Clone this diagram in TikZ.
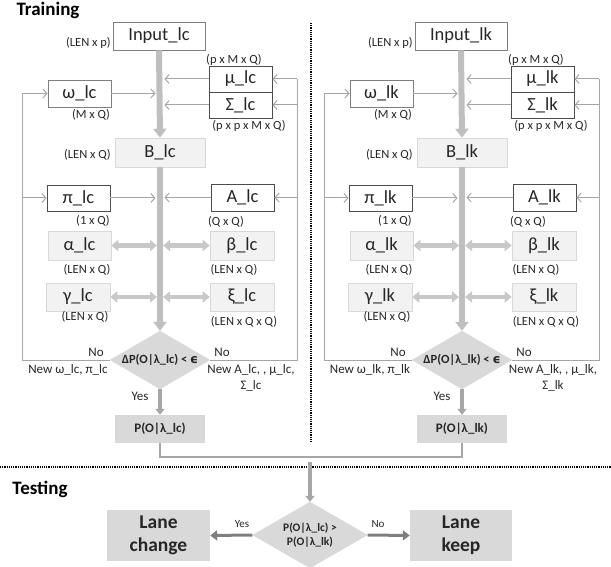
\documentclass[tikz,border=0pt]{standalone}
\usepackage{fontspec}
\setmainfont{Carlito}
\newfontfamily\dvfont{DejaVu Sans}
\usetikzlibrary{arrows.meta}
\definecolor{lgray}{HTML}{F2F2F2}
\definecolor{lborder}{HTML}{D9D9D9}
\definecolor{mgray}{HTML}{D9D9D9}
\definecolor{thickc}{HTML}{BFBFBF}
\definecolor{fbc}{HTML}{A6A6A6}
\definecolor{dblc}{HTML}{C8C8C8}
\definecolor{darkarr}{HTML}{7F7F7F}
\definecolor{txt}{HTML}{262626}
\tikzset{
  base/.style={inner sep=0pt, text=txt},
  wbox/.style={base, draw=darkarr, line width=0.9pt, fill=white, font=\fontsize{18.5}{21}\selectfont},
  dbox/.style={base, draw=black!70, line width=0.9pt, fill=white, font=\fontsize{18.5}{21}\selectfont},
  gbox/.style={base, draw=lborder, line width=0.6pt, fill=lgray, font=\fontsize{18.5}{21}\selectfont},
  pbox/.style={base, fill=mgray, font=\bfseries\fontsize{13}{15}\selectfont},
  lanebox/.style={base, fill=mgray, align=center, font=\bfseries\fontsize{19.5}{23}\selectfont},
  small/.style={base, font=\fontsize{12.5}{14}\selectfont},
  lbl/.style={base, font=\fontsize{13}{15}\selectfont},
  mainarr/.style={draw=thickc, line width=6pt, -{Triangle[length=9pt,width=13pt]}},
  thinarr/.style={draw=fbc, line width=1pt, -{Straight Barb[length=4pt,width=9pt]}},
  fbline/.style={draw=fbc, line width=1pt},
  dblarr/.style={draw=dblc, line width=4.5pt, {Triangle[length=7pt,width=11pt]}-{Triangle[length=7pt,width=11pt]}},
  yesarr/.style={draw=fbc, line width=4pt, -{Triangle[length=6pt,width=9pt]}},
  testarr/.style={draw=darkarr, line width=3pt, -{Triangle[length=7pt,width=10pt]}},
  dotline/.style={draw=black, line width=1.2pt, dash pattern=on 1.2pt off 1pt},
  diafill/.style={fill=mgray},
  diatext/.style={base, font=\bfseries\fontsize{12.5}{14}\selectfont, align=center},
  title/.style={base, text=black, font=\bfseries\fontsize{19}{22}\selectfont}
}
\newcommand\hmmpanel[2]{%
\begin{scope}[xshift=#2]
  \node[wbox, minimum width=92pt, minimum height=28pt] (in#1) at (159,36) {Input\_#1};
  \node[dbox, minimum width=63pt, minimum height=26pt] (mu#1) at (240.5,79) {μ\_#1};
  \node[dbox, minimum width=63pt, minimum height=26pt] (sig#1) at (240.5,105) {Σ\_#1};
  \node[wbox, minimum width=63pt, minimum height=27pt] (om#1) at (79.5,93.5) {ω\_#1};
  \node[gbox, minimum width=90pt, minimum height=29pt] (B#1) at (160,152.5) {B\_#1};
  \node[dbox, minimum width=63pt, minimum height=26pt] (pi#1) at (78.5,198) {π\_#1};
  \node[dbox, minimum width=63pt, minimum height=27pt] (A#1) at (242.5,197.5) {A\_#1};
  \node[gbox, minimum width=63pt, minimum height=29pt] (al#1) at (79.5,245.5) {α\_#1};
  \node[gbox, minimum width=64pt, minimum height=29pt] (be#1) at (242,245.5) {β\_#1};
  \node[gbox, minimum width=64pt, minimum height=28pt] (ga#1) at (78,297) {γ\_#1};
  \node[gbox, minimum width=64pt, minimum height=28pt] (xi#1) at (242,297) {ξ\_#1};
  \node[base, minimum width=100pt, minimum height=58pt] (dia#1) at (160,360) {};
  \fill[diafill] (dia#1.north) -- (dia#1.east) -- (dia#1.south) -- (dia#1.west) -- cycle;
  \node[diatext] (diat#1) at (dia#1.center) {ΔP(O|λ\_#1) < {\dvfont ϵ}};
  \node[pbox, minimum width=90pt, minimum height=28pt] (P#1) at (160,429) {P(O|λ\_#1)};
  % size labels
  \node[small, anchor=east] (lin#1) at (111,43) {(LEN x p)};
  \node[small] (lmu#1) at (234,60) {(p x M x Q)};
  \node[small] (lsig#1) at (249,126) {(p x p x M x Q)};
  \node[small] (lom#1) at (91,115) {(M x Q)};
  \node[small, anchor=east] (lB#1) at (111,155) {(LEN x Q)};
  \node[small] (lpi#1) at (93,221) {(1 x Q)};
  \node[small] (lA#1) at (226,222) {(Q x Q)};
  \node[small] (lal#1) at (87,270) {(LEN x Q)};
  \node[small] (lbe#1) at (234,270) {(LEN x Q)};
  \node[small] (lga#1) at (85,317) {(LEN x Q)};
  \node[small] (lxi#1) at (244,322) {(LEN x Q x Q)};
  % main flow
  \draw[mainarr] (in#1.south) -- (B#1.north);
  \draw[mainarr] (B#1.south) -- (dia#1.north);
  \coordinate (mr#1) at (164.5,0);
  \coordinate (ml#1) at (155.5,0);
  \draw[thinarr] (mu#1.west) -- (mu#1.west -| mr#1);
  \draw[thinarr] (sig#1.west) -- (sig#1.west -| mr#1);
  \draw[thinarr] (om#1.east) -- (om#1.east -| ml#1);
  \draw[thinarr] (pi#1.east) -- (pi#1.east -| ml#1);
  \draw[thinarr] (A#1.west) -- (A#1.west -| mr#1);
  \coordinate (dl#1) at (157,0);
  \coordinate (dr#1) at (163,0);
  \draw[dblarr] (al#1.east) -- (al#1.east -| dl#1);
  \draw[dblarr] (dr#1 |- be#1.west) -- (be#1.west);
  \draw[dblarr] (ga#1.east) -- (ga#1.east -| dl#1);
  \draw[dblarr] (dr#1 |- xi#1.west) -- (xi#1.west);
  % feedback
  \coordinate (fl#1) at (22,360);
  \coordinate (fr#1) at (297,360);
  \draw[fbline] (dia#1.west) -- (fl#1) -- (fl#1 |- om#1.west);
  \draw[thinarr] (fl#1 |- om#1.west) -- (om#1.west);
  \draw[thinarr] (fl#1 |- pi#1.west) -- (pi#1.west);
  \draw[fbline] (dia#1.east) -- (fr#1) -- (fr#1 |- mu#1.east);
  \draw[thinarr] (fr#1 |- mu#1.east) -- (mu#1.east);
  \draw[thinarr] (fr#1 |- sig#1.east) -- (sig#1.east);
  \draw[thinarr] (fr#1 |- A#1.east) -- (A#1.east);
  \node[lbl] (nol#1) at (96,352) {No};
  \node[lbl] (newl#1) at (68,370) {New ω\_#1, π\_#1};
  \node[lbl] (nor#1) at (222,352) {No};
  \node[lbl] (newr#1) at (251,370) {New A\_#1, , μ\_#1,};
  \node[lbl] (newr2#1) at (251,386) {Σ\_#1};
  \node[lbl] (yes#1) at (140,396) {Yes};
  \draw[yesarr] (dia#1.south) -- (P#1.north);
\end{scope}}
\begin{document}
\begin{tikzpicture}[x=1pt,y=-1pt]
  \useasboundingbox (0,0) rectangle (611,567);
  \node[title] (train) at (48,10) {Training};
  \hmmpanel{lc}{0pt}
  \hmmpanel{lk}{302pt}
  % dividers
  \coordinate (vd1) at (311,23);
  \coordinate (vd2) at (311,442);
  \draw[dotline] (vd1) -- (vd2);
  \coordinate (hd1) at (0,467);
  \coordinate (hd2) at (611,467);
  \draw[dotline] (hd1) -- (hd2);
  \node[title] (test) at (40,489) {Testing};
  % join
  \coordinate (j1) at (160,457);
  \coordinate (j2) at (462,457);
  \draw[fbc, line width=2pt] (Plc.south) -- (j1) -- (j2) -- (Plk.south);
  \coordinate (tstart) at (310,462);
  % test diamond
  \node[base, minimum width=115pt, minimum height=66pt] (td) at (310,535) {};
  \fill[diafill] (td.north) -- (td.east) -- (td.south) -- (td.west) -- cycle;
  \node[diatext, font=\bfseries\fontsize{11.5}{13.5}\selectfont] (tdt) at (310,535) {P(O|λ\_lc) >\\P(O|λ\_lk)};
  \draw[yesarr] (tstart) -- (td.north);
  \node[lanebox, minimum width=103pt, minimum height=51pt] (lch) at (158.5,535.5) {Lane\\change};
  \node[lanebox, minimum width=102pt, minimum height=51pt] (lke) at (461,535.5) {Lane\\keep};
  \draw[testarr] (td.west) -- (lch.east);
  \draw[testarr] (td.east) -- (lke.west);
  \node[small, font=\fontsize{11}{13}\selectfont] (tyes) at (242,524) {Yes};
  \node[small, font=\fontsize{11}{13}\selectfont] (tno) at (378,524) {No};
\end{tikzpicture}
\end{document}
